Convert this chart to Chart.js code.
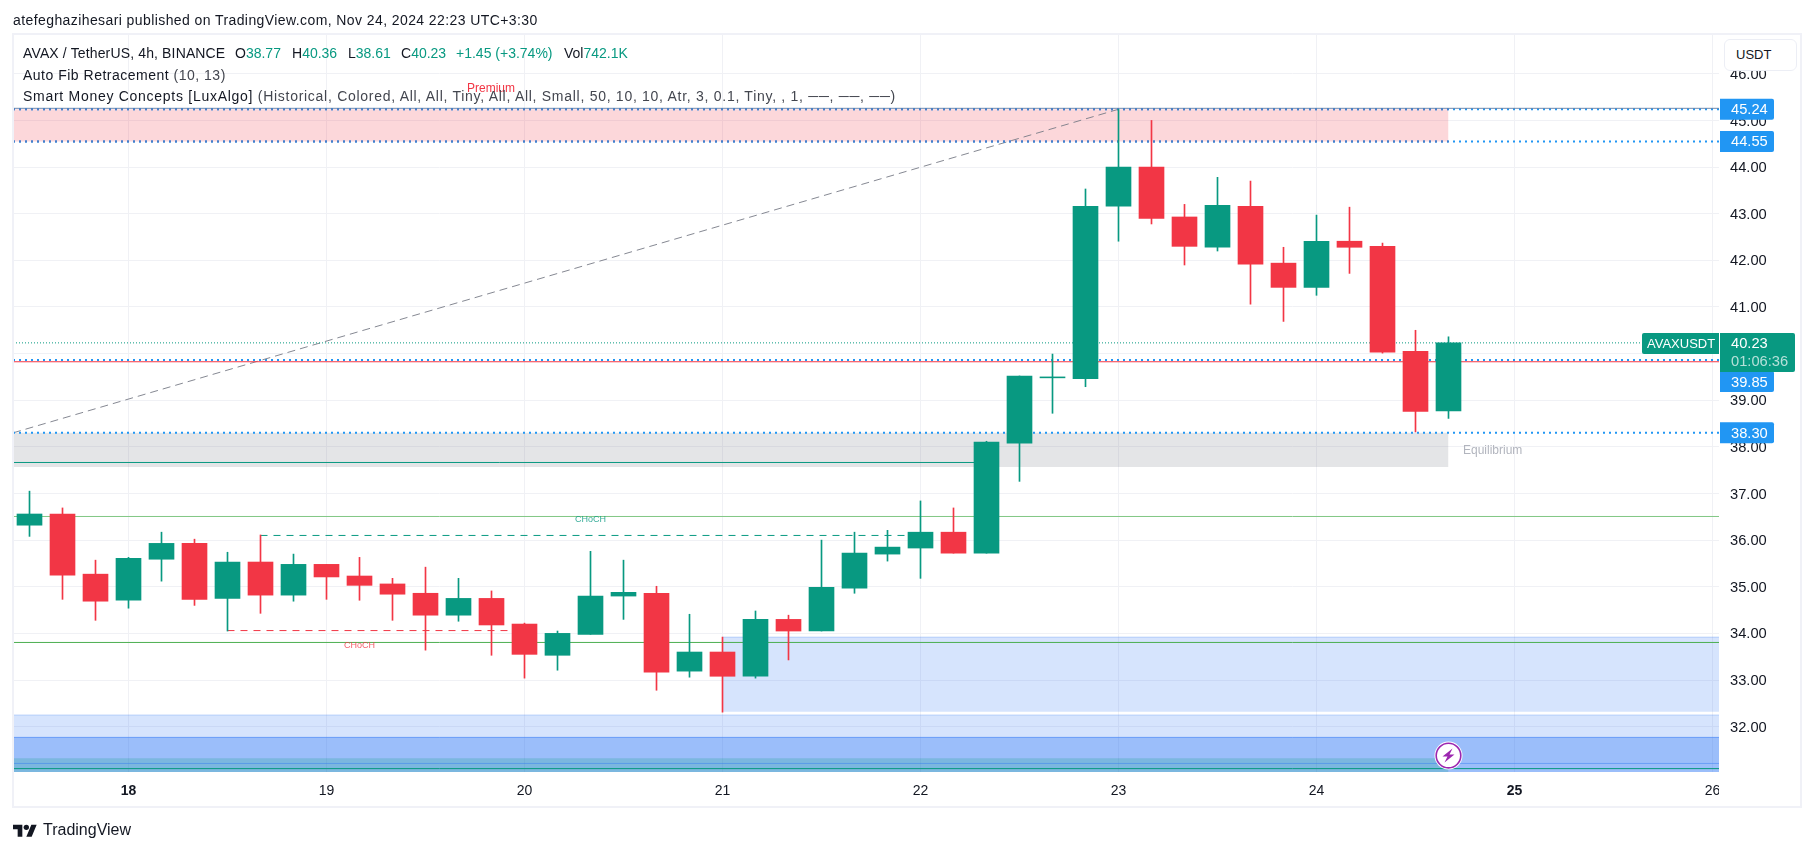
<!DOCTYPE html>
<html lang="en">
<head>
<meta charset="UTF-8">
<title>AVAXUSDT 4h</title>
<style>
    body { margin: 0; background: #fff; font-family: "Liberation Sans", sans-serif; color: #131722; }
    #myChart { position: absolute; left: 0; top: 0; }
    .txt { position: absolute; white-space: pre; font-size: 14px; line-height: 18px; }
    .up { color: #089981; }
    .dim { color: #43464f; }
    #usdt { position: absolute; left: 1724px; top: 39px; width: 71px; height: 30px; border: 1px solid #eceef5; border-radius: 6px;
            background: #fff; font-size: 13px; line-height: 30px; text-indent: 11px; color: #131722; }
</style>
</head>
<body>
    <canvas id="myChart" width="1814" height="851"></canvas>
    <div class="txt" style="left:13px;top:11px;letter-spacing:0.41px">atefeghazihesari published on TradingView.com, Nov 24, 2024 22:23 UTC+3:30</div>
    <div class="txt" style="left:23px;top:44px;letter-spacing:0.14px">AVAX / TetherUS, 4h, BINANCE</div>
    <div class="txt" style="left:235px;top:44px">O<span class="up">38.77</span></div>
    <div class="txt" style="left:292px;top:44px">H<span class="up">40.36</span></div>
    <div class="txt" style="left:348px;top:44px">L<span class="up">38.61</span></div>
    <div class="txt" style="left:401px;top:44px">C<span class="up">40.23</span></div>
    <div class="txt up" style="left:456px;top:44px">+1.45 (+3.74%)</div>
    <div class="txt" style="left:564px;top:44px">Vol<span class="up">742.1K</span></div>
    <div class="txt" style="left:23px;top:66px;letter-spacing:0.5px">Auto Fib Retracement <span class="dim">(10, 13)</span></div>
    <div class="txt" style="left:23px;top:87px;letter-spacing:0.72px">Smart Money Concepts [LuxAlgo] <span class="dim">(Historical, Colored, All, All, Tiny, All, All, Small, 50, 10, 10, Atr, 3, 0.1, Tiny, , 1, ──, ──, ──)</span></div>
    <div id="usdt">USDT</div>
    <svg style="position:absolute;left:13px;top:822px" width="24" height="16" viewBox="0 0 36 24"><path fill="#131722" d="M14 22H7V11H0V4h14v18zM28 22h-8l7.5-18h8L28 22z"/><circle fill="#131722" cx="20" cy="8" r="4"/></svg>
    <div class="txt" style="left:43px;top:821px;font-size:16px">TradingView</div>

    <script src="https://cdn.jsdelivr.net/npm/chart.js"></script>
    <script>
        // 4h candles, first one is Nov 17 12:00
        const opens = [36.32,36.56,35.27,34.71,35.59,35.93,34.75,35.53,34.82,35.48,35.23,35.06,34.86,34.39,34.75,34.20,33.53,33.98,34.80,34.86,33.19,33.60,33.08,34.30,34.05,34.97,35.70,35.83,36.17,35.72,38.08,39.48,39.46,43.16,44.00,42.93,42.28,43.16,41.94,41.42,42.41,42.30,40.05,38.77];
        const closes = [36.56,35.25,34.69,35.61,35.93,34.73,35.53,34.82,35.48,35.21,35.03,34.84,34.39,34.75,34.18,33.55,34.00,34.80,34.88,33.17,33.60,33.08,34.30,34.05,34.99,35.72,35.85,36.17,35.72,38.10,39.52,39.50,43.16,44.00,42.90,42.30,43.18,41.92,41.42,42.41,42.28,40.03,38.76,40.23];
        const highs = [37.05,36.69,35.57,35.63,36.17,36.02,35.74,36.11,35.70,35.48,35.63,35.18,35.42,35.18,34.91,34.22,34.05,35.76,35.57,35.01,34.41,33.92,34.48,34.39,36.00,36.17,36.21,36.84,36.69,38.12,39.52,39.99,43.53,45.24,45.00,43.20,43.78,43.70,42.28,42.97,43.14,42.37,40.50,40.36];
        const lows = [36.08,34.73,34.28,34.54,35.12,34.60,34.05,34.43,34.69,34.73,34.71,34.28,33.64,34.26,33.53,33.04,33.21,33.98,34.30,32.78,33.06,32.31,33.04,33.43,34.05,34.86,35.55,35.18,35.72,35.72,37.26,38.72,39.29,42.41,42.78,41.90,42.20,41.06,40.69,41.25,41.72,40.01,38.32,38.61];

        const dayPositions = [3,9,15,21,27,33,39,45,51];
        const dayLabels = ['18','19','20','21','22','23','24','25','26'];
        const boldDays = ['18','25'];

        const premiumZone = [45.24,44.55];
        const equilibriumZone = [38.30,37.57];
        const demandBox = [33.92,32.32];
        const lowerZones = [32.25,31.77,31.32];
        const fibLevels = [45.24,44.55,39.85,38.30];
        const lastPrice = 40.23;
        const chochUp = 36.10, chochDown = 34.06;
        const greenLevels = [36.507,33.805];
        const swingLevel = 37.665;
        const lowerLines = [31.21,31.10];

        const X_MIN = -0.5, X_MAX = 51.197;
        const Y_MIN = 31.027, Y_MAX = 46.854;
        const UP = '#089981', DOWN = '#f23645', BLUE = '#2196f3';
        const TICK_FONT = '14.7px "Liberation Sans"';

        function f_line(v_pts, v_color, v_width, v_dash, v_order) {
            return {
                type: 'line', data: v_pts.map(p => ({x: p[0], y: p[1]})), borderColor: v_color,
                borderWidth: v_width, borderDash: v_dash || [], pointRadius: 0, order: v_order, tension: 0
            };
        }
        function f_hline(v_y, v_x0, v_x1, v_color, v_width, v_dash, v_order) {
            return f_line([[v_x0, v_y], [v_x1, v_y]], v_color, v_width, v_dash, v_order);
        }
        function f_zone(v_top, v_bottom, v_x0, v_x1, v_color, v_border, v_order) {
            let v_ds = f_hline(v_top, v_x0, v_x1, v_border, 1, [], v_order);
            v_ds.fill = {value: v_bottom};
            v_ds.backgroundColor = v_color;
            return v_ds;
        }

        const v_idx = opens.map((o, i) => i);
        const v_colors = opens.map((o, i) => closes[i] >= o ? UP : DOWN);
        const v_end = opens.length - 1;

        let v_datasets = [
            {type: 'bar', data: v_idx.map(i => ({x: i, y: [opens[i], closes[i]]})), backgroundColor: v_colors, barThickness: 25, grouped: false, order: 0},
            {type: 'bar', data: v_idx.map(i => ({x: i, y: [lows[i], highs[i]]})), backgroundColor: v_colors, barThickness: 1, grouped: false, order: 1},

            // levels
            f_hline(fibLevels[0] + 0.02, X_MIN, X_MAX, 'rgba(95,125,165,0.9)', 1, [], 5),
            f_hline(fibLevels[0], X_MIN, X_MAX, BLUE, 2, [2,4], 5),
            f_hline(fibLevels[0], X_MIN, v_end, '#4a7dc6', 2, [2,4], 4),
            f_hline(fibLevels[1], X_MIN, X_MAX, BLUE, 2, [2,4], 5),
            f_hline(fibLevels[1], X_MIN, v_end, '#4a7dc6', 2, [2,4], 4),
            f_hline(fibLevels[2] + 0.015, X_MIN, X_MAX, BLUE, 2, [2,4], 6),
            f_hline(fibLevels[2] - 0.025, X_MIN, X_MAX, DOWN, 1, [], 5),
            f_hline(fibLevels[3], X_MIN, X_MAX, BLUE, 2, [2,4], 5),
            f_hline(lastPrice, X_MIN, 49, UP, 1, [1,2], 5),
            f_line([[X_MIN, 38.30], [33, 45.24]], 'rgba(120,123,134,0.9)', 1, [8,5], 5),
            f_hline(greenLevels[0], X_MIN, X_MAX, '#81c784', 1, [], 5),
            f_hline(greenLevels[1], X_MIN, X_MAX, '#4caf50', 1, [], 5),
            f_hline(swingLevel, X_MIN, 29, UP, 1, [], 5),
            f_hline(chochUp, 7, 27, UP, 1, [7,6], 5),
            f_hline(chochDown, 6, 15, DOWN, 1, [7,6], 5),
            f_hline(lowerLines[0], X_MIN, X_MAX, 'rgba(49,121,245,0.45)', 1, [], 7),
            f_hline(lowerLines[1], X_MIN, X_MAX, UP, 1, [], 7),

            // zones
            f_zone(premiumZone[0], premiumZone[1], X_MIN, v_end, 'rgba(242,54,69,0.2)', 'rgba(242,54,69,0)', 10),
            f_zone(equilibriumZone[0], equilibriumZone[1], X_MIN, v_end, 'rgba(120,123,134,0.2)', 'rgba(120,123,134,0)', 10),
            f_zone(demandBox[0], demandBox[1], 21, X_MAX, 'rgba(49,121,245,0.2)', 'rgba(49,121,245,0.25)', 10),
            f_zone(lowerZones[0], Y_MIN - 1, X_MIN, X_MAX, 'rgba(49,121,245,0.2)', 'rgba(49,121,245,0.25)', 12),
            f_zone(lowerZones[1], Y_MIN - 1, X_MIN, X_MAX, 'rgba(49,121,245,0.36)', 'rgba(49,121,245,0.55)', 11),
            f_zone(lowerZones[2], Y_MIN - 1, X_MIN, v_end, 'rgba(8,153,129,0.22)', 'rgba(8,153,129,0)', 10)
        ];

        function f_badge(ctx, x, y, w, h, color, r) {
            ctx.fillStyle = color;
            ctx.beginPath();
            ctx.roundRect(x, y, w, h, r);
            ctx.fill();
        }

        const v_overlay = {
            id: 'overlay',
            afterDraw(chart) {
                const ctx = chart.ctx, sx = chart.scales.x, sy = chart.scales.y;
                ctx.save();
                // frame
                ctx.strokeStyle = '#f0f1f7';
                ctx.lineWidth = 2;
                ctx.strokeRect(13, 34, 1788, 773);
                // clip "26" at the price axis
                ctx.fillStyle = '#fff';
                ctx.fillRect(1719, 773, 81, 33);

                ctx.textBaseline = 'middle';
                // zone and structure labels
                ctx.font = '12px "Liberation Sans"';
                ctx.fillStyle = DOWN;
                ctx.textAlign = 'center';
                ctx.fillText('Premium', 491, 89);
                ctx.font = '9px "Liberation Sans"';
                ctx.fillStyle = 'rgba(8,153,129,0.8)';
                ctx.fillText('CHoCH', sx.getPixelForValue(17), sy.getPixelForValue(36.44));
                ctx.fillStyle = 'rgba(242,54,69,0.8)';
                ctx.fillText('CHoCH', sx.getPixelForValue(10), sy.getPixelForValue(33.74));
                ctx.font = '12px "Liberation Sans"';
                ctx.fillStyle = '#b2b5be';
                ctx.textAlign = 'left';
                ctx.fillText('Equilibrium', 1463, sy.getPixelForValue(37.91));

                // price badges
                ctx.font = TICK_FONT;
                const v_tags = [[fibLevels[0], 0], [fibLevels[1], 0], [fibLevels[3], 0], [fibLevels[2], 21]];
                v_tags.forEach(t => {
                    const y = sy.getPixelForValue(t[0]) + t[1];
                    f_badge(ctx, 1720, y - 10.5, 54, 21, BLUE, [0,2,2,0]);
                    ctx.fillStyle = '#fff';
                    ctx.fillText(t[0].toFixed(2), 1731, y + 1);
                });
                f_badge(ctx, 1720, 333, 75, 39, UP, [0,2,2,0]);
                ctx.fillStyle = '#fff';
                ctx.fillText(lastPrice.toFixed(2), 1731, 344);
                ctx.fillStyle = 'rgba(255,255,255,0.7)';
                ctx.fillText('01:06:36', 1731, 361.5);
                f_badge(ctx, 1642, 333, 77, 21, UP, [2,0,0,2]);
                ctx.fillStyle = '#fff';
                ctx.font = '13px "Liberation Sans"';
                ctx.fillText('AVAXUSDT', 1647, 344);

                // news icon on the last candle
                const ix = sx.getPixelForValue(v_end), iy = sy.getPixelForValue(31.38);
                ctx.fillStyle = '#fff';
                ctx.beginPath(); ctx.arc(ix, iy, 14, 0, Math.PI * 2); ctx.fill();
                ctx.strokeStyle = '#9c27b0';
                ctx.lineWidth = 1.6;
                ctx.beginPath(); ctx.arc(ix, iy, 12.3, 0, Math.PI * 2); ctx.stroke();
                ctx.fillStyle = '#9c27b0';
                ctx.beginPath();
                ctx.moveTo(ix + 4, iy - 7); ctx.lineTo(ix - 6, iy + 1); ctx.lineTo(ix - 1, iy + 1);
                ctx.lineTo(ix - 4, iy + 7); ctx.lineTo(ix + 6, iy - 1); ctx.lineTo(ix + 1, iy - 1);
                ctx.closePath(); ctx.fill();
                ctx.restore();
            }
        };

        new Chart(document.querySelector('#myChart'), {
            type: 'bar',
            data: {datasets: v_datasets},
            plugins: [v_overlay],
            options: {
                responsive: false,
                animation: false,
                layout: {padding: {left: 13, top: 34, right: 13, bottom: 44}},
                plugins: {legend: {display: false}, tooltip: {enabled: false}},
                scales: {
                    x: {
                        type: 'linear', min: X_MIN, max: X_MAX, offset: false,
                        afterFit(s) { s.height = 35; },
                        afterBuildTicks(s) { s.ticks = dayPositions.map(v => ({value: v})); },
                        grid: {offset: false, color: '#f0f1f5', drawTicks: false},
                        border: {display: false},
                        ticks: {
                            autoSkip: false, maxRotation: 0, padding: 11, color: '#131722',
                            callback: v => dayLabels[dayPositions.indexOf(v)],
                            font: c => ({family: '"Liberation Sans"', size: 14,
                                weight: c.tick && boldDays.includes(dayLabels[dayPositions.indexOf(c.tick.value)]) ? 'bold' : 'normal'})
                        }
                    },
                    y: {
                        position: 'right', min: Y_MIN, max: Y_MAX,
                        afterFit(s) { s.width = 82; },
                        afterBuildTicks(s) {
                            let v_t = [];
                            for (let v = 32; v <= 46; v++) v_t.push({value: v});
                            s.ticks = v_t;
                        },
                        grid: {color: '#f0f1f5', drawTicks: false},
                        border: {display: false},
                        ticks: {padding: 11, labelOffset: 1, color: '#131722', font: {family: '"Liberation Sans"', size: 14.7},
                            callback: v => v.toFixed(2)}
                    }
                }
            }
        });
    </script>
</body>
</html>
